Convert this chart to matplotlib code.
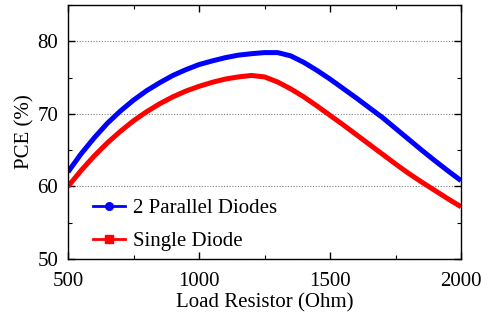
import matplotlib
matplotlib.use("Agg")
import matplotlib.pyplot as plt
from matplotlib.lines import Line2D
from matplotlib.ticker import MultipleLocator

# values
load_ohm = [500, 550, 600, 650, 700, 750, 800, 850, 900, 950, 1000,
            1050, 1100, 1150, 1200, 1250, 1300, 1350, 1400, 1450, 1500,
            1550, 1600, 1650, 1700, 1750, 1800, 1850, 1900, 1950, 2000]
pce_parallel = [62.0, 64.5, 66.7, 68.7, 70.4, 71.9, 73.2, 74.3, 75.3, 76.1, 76.8,
                77.3, 77.75, 78.1, 78.3, 78.45, 78.45, 78.0, 77.1, 76.0, 74.8,
                73.5, 72.2, 70.85, 69.5, 68.0, 66.5, 65.0, 63.55, 62.15, 60.8]
pce_single = [60.0, 62.2, 64.2, 66.0, 67.6, 69.05, 70.3, 71.4, 72.35, 73.15, 73.8,
              74.35, 74.8, 75.1, 75.3, 75.1, 74.4, 73.45, 72.35, 71.1, 69.8,
              68.5, 67.15, 65.8, 64.45, 63.1, 61.8, 60.6, 59.45, 58.3, 57.2]

plt.rcParams['font.family'] = ['Liberation Serif', 'DejaVu Serif']

fig = plt.figure(figsize=(4.91, 3.2), dpi=100)
ax = fig.add_axes([0.1385, 0.1906, 0.8005, 0.7935])

ax.plot(load_ohm, pce_parallel, color='#0000ff', lw=3.6, solid_capstyle='butt',
        solid_joinstyle='round')
ax.plot(load_ohm, pce_single, color='#ff0000', lw=3.6, solid_capstyle='butt',
        solid_joinstyle='round')

ax.set_xlim(500, 2000)
ax.set_ylim(50, 85)
ax.xaxis.set_major_locator(MultipleLocator(500))
ax.xaxis.set_minor_locator(MultipleLocator(250))
ax.yaxis.set_major_locator(MultipleLocator(10))
ax.yaxis.set_minor_locator(MultipleLocator(5))
ax.tick_params(which='both', direction='in', top=True, right=True, labelsize=15)
ax.tick_params(which='major', length=5, width=1)
ax.tick_params(which='minor', length=3, width=0.8)
ax.tick_params(axis='x', pad=9.5)
ax.tick_params(axis='y', pad=7)
ax.grid(axis='y', which='major', ls=(0, (1, 1.5)), color='gray', lw=0.8)
for s in ax.spines.values():
    s.set_linewidth(1)

ax.set_xlabel("Load Resistor (Ohm)", fontsize=15, labelpad=1.5)
ax.set_ylabel("PCE (%)", fontsize=15, labelpad=2)

handles = [Line2D([], [], color='#0000ff', lw=2, marker='o', ms=5.5),
           Line2D([], [], color='#ff0000', lw=2, marker='s', ms=5.5)]
ax.legend(handles, ["2 Parallel Diodes", "Single Diode"], loc='lower left',
          bbox_to_anchor=(0.038, -0.01), frameon=False, fontsize=15,
          borderpad=0, handlelength=1.5, handletextpad=0.4, labelspacing=0.65)

fig.savefig("out.png", dpi=100)
